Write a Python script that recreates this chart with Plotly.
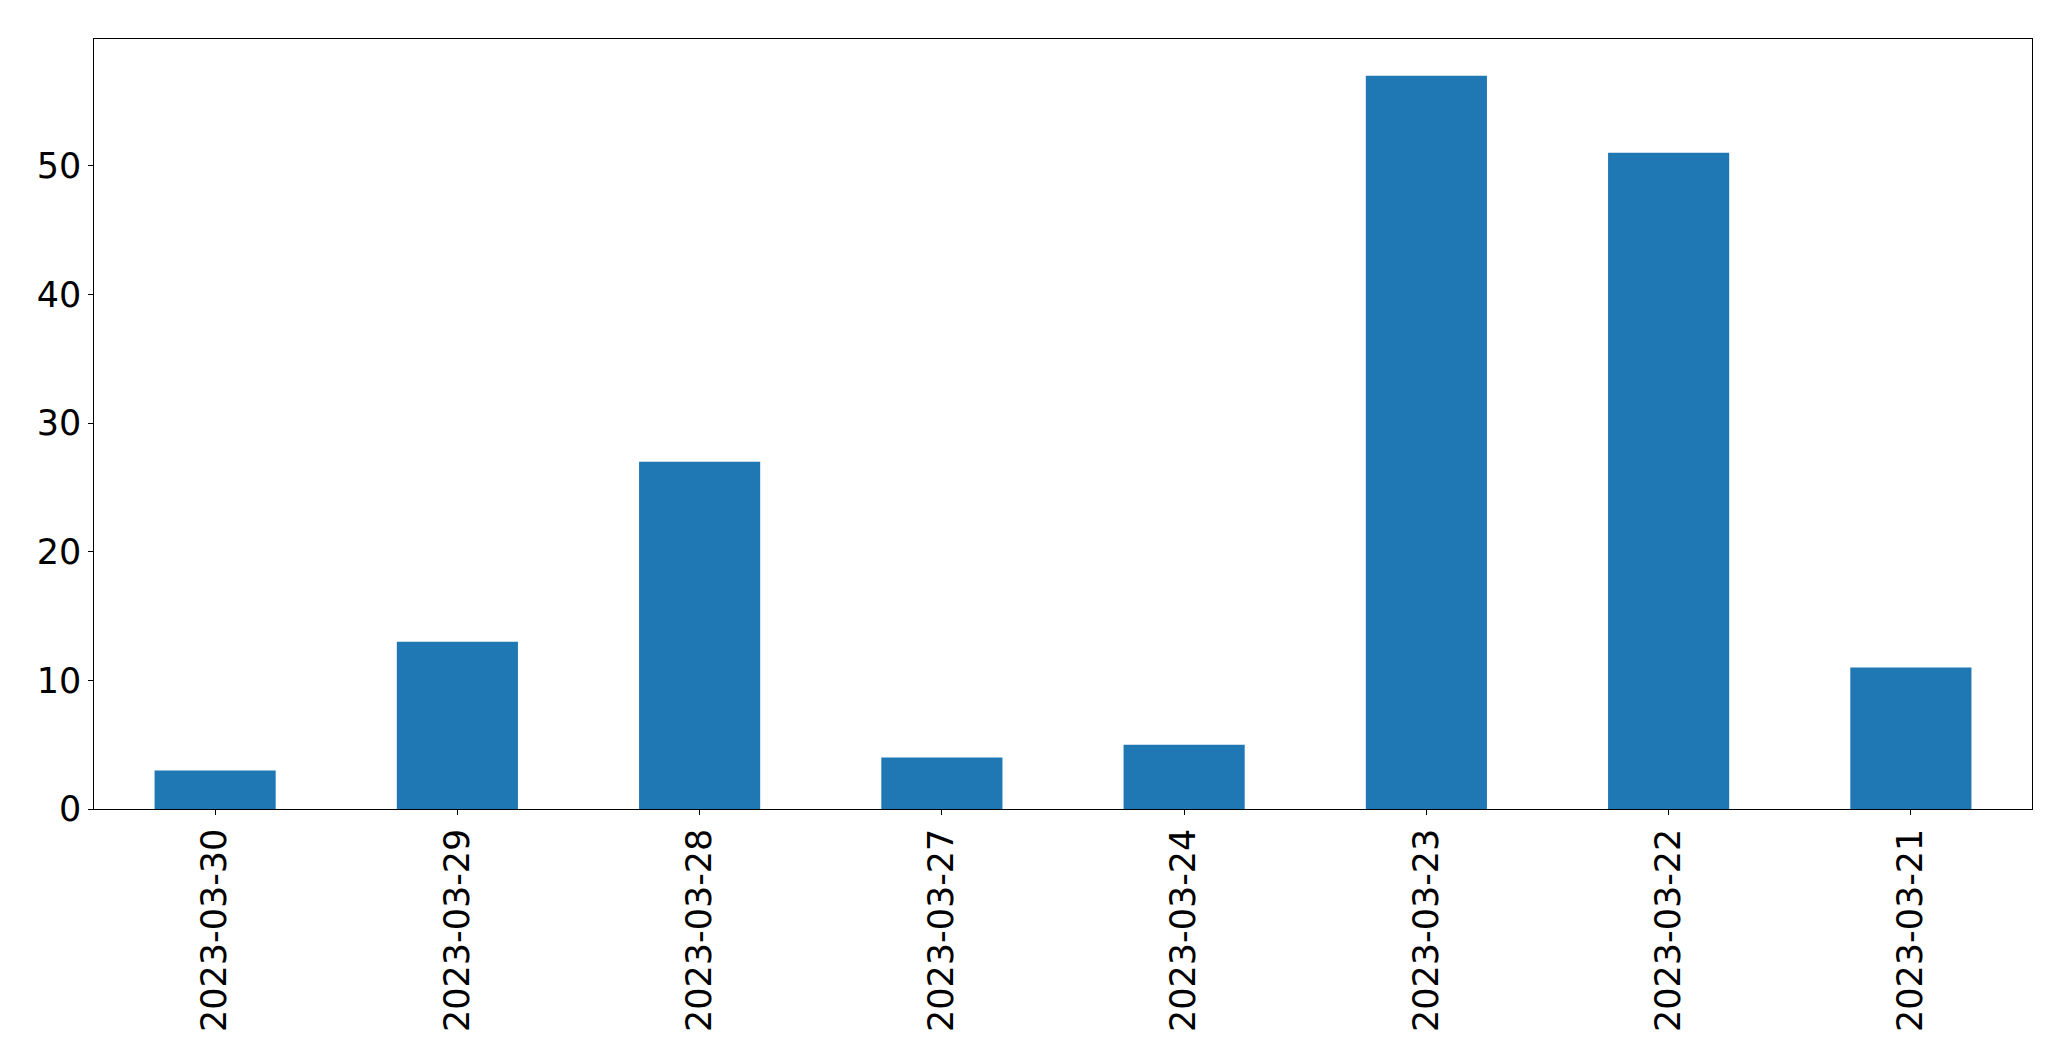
import plotly.graph_objects as go

dates = ["2023-03-30", "2023-03-29", "2023-03-28", "2023-03-27",
         "2023-03-24", "2023-03-23", "2023-03-22", "2023-03-21"]
counts = [3, 13, 27, 4, 5, 57, 51, 11]
y_ticks = [0, 10, 20, 30, 40, 50]

fig = go.Figure(go.Bar(x=dates, y=counts, width=0.5,
                       marker=dict(color="#1f77b4", line=dict(width=0))))

fig.update_layout(
    width=2063, height=1053,
    margin=dict(l=86, r=39, t=31, b=252, autoexpand=False),
    paper_bgcolor="white", plot_bgcolor="white",
    font=dict(family="DejaVu Sans", size=35, color="black"),
    showlegend=False, bargap=0.5,
)
fig.update_xaxes(type="category", range=[-0.5, 7.5], tickangle=-90,
                 showline=True, linecolor="black", linewidth=1.3, mirror=True,
                 ticks="outside", ticklen=4.5, tickcolor="black", tickwidth=1.3,
                 showgrid=False, zeroline=False)
fig.update_yaxes(range=[0, 59.85], tickvals=y_ticks,
                 showline=True, linecolor="black", linewidth=1.3, mirror=True,
                 ticks="outside", ticklen=4.5, tickcolor="black", tickwidth=1.3,
                 showgrid=False, zeroline=False)

fig.write_html("out.html")
